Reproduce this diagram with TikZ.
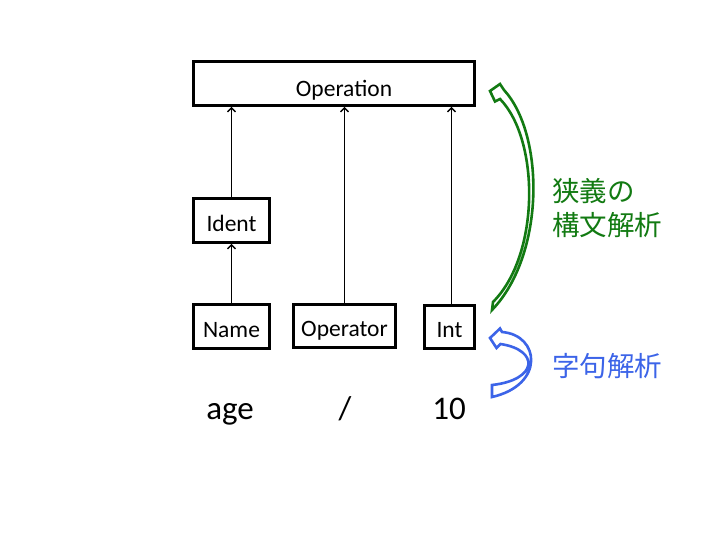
\documentclass[tikz,border=0pt]{standalone}
\usepackage{fontspec}
\setmainfont{Carlito}
\newfontfamily\cjk{Noto Sans CJK JP}
\usetikzlibrary{arrows.meta}
\definecolor{mygreen}{RGB}{18,122,18}
\definecolor{myblue}{RGB}{60,100,232}
\tikzset{
  box/.style={draw, line width=2.6pt, inner sep=0pt, minimum height=44pt,
    font=\fontsize{23.5}{26}\selectfont, text height=21pt, text depth=0pt},
  link/.style={line width=1.8pt, -{Straight Barb[length=4pt,width=8pt,line width=1.4pt]}},
  word/.style={anchor=base, font=\fontsize{33}{36}\selectfont},
  hollow/.style={line width=2.6pt, line join=miter, fill=white}
}
\begin{document}
\begin{tikzpicture}[x=1pt,y=-1pt]
\useasboundingbox (0,0) rectangle (720,540);
\node[box, minimum width=281pt, text height=26pt] (op) at (334,83.5) {\hspace*{20pt}Operation};
\node[box, minimum width=76pt] (ident) at (231.5,220.5) {Ident};
\node[box, minimum width=76pt] (name) at (231.5,326.5) {Name};
\node[box, minimum width=102pt, minimum height=43pt] (oper) at (344.5,326) {Operator};
\node[box, minimum width=50pt, minimum height=43pt] (int) at (449.5,327) {Int};
\draw[link] (name.north) -- (ident.south);
\draw[link] (ident.north) -- (ident.north |- op.south);
\draw[link] (oper.north) -- (oper.north |- op.south);
\draw[link] ([xshift=2pt]int.north) -- ([xshift=2pt]int.north |- op.south);
\node[word] (age) at (230,419) {age};
\node[word] (slash) at (345,419) {/};
\node[word] (ten) at (449,419) {10};
% green hollow arrow
\draw[hollow, draw=mygreen] (492,310) .. controls (545,255) and (545,135) .. (504,90)
  -- (500,84) -- (490,91) -- (495,101.5) -- (500,99)
  .. controls (540,140) and (540,255) .. (493,302) -- cycle;
% blue hollow arrow
\draw[hollow, draw=myblue] (492,397) .. controls (545,385) and (540,335) .. (502,332)
  -- (500,328.5) -- (490,338) -- (496.5,348) -- (500.5,344)
  .. controls (540,350) and (538,380) .. (492,385) -- cycle;
\node[anchor=west, align=left, text=mygreen, inner sep=0pt,
  font=\cjk\fontsize{27.5}{34}\selectfont] (narrow) at (552,208) {狭義の\\構文解析};
\node[anchor=west, text=myblue, inner sep=0pt,
  font=\cjk\fontsize{27.5}{34}\selectfont] (lex) at (552,366.5) {字句解析};
\end{tikzpicture}
\end{document}
